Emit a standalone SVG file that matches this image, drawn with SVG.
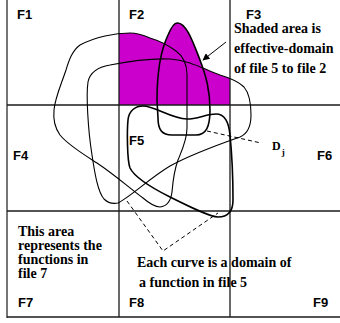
<svg xmlns="http://www.w3.org/2000/svg" width="340" height="323" viewBox="0 0 340 323">
<style>
.grid{stroke:#1a1a1a;stroke-width:1.3;fill:none}
.border{stroke:#666;stroke-width:1.8;fill:none}
.thin{stroke:#000;stroke-width:1.1;fill:none}
.bold{stroke:#000;stroke-width:1.6;fill:none}
.dash{stroke:#000;stroke-width:1;stroke-dasharray:4 3;fill:none}
.shade{fill:#cc00cc;stroke:none}
.lab{font-family:"Liberation Sans",Arial,sans-serif;font-weight:bold;font-size:13px;fill:#000}
.note{font-family:"Liberation Serif","Times New Roman",serif;font-weight:bold;font-size:14px;fill:#000}
</style>
<defs>
<clipPath id="cellF2"><rect x="119" y="0" width="111" height="105"/></clipPath>
<marker id="ah" viewBox="0 0 10 10" refX="9" refY="5" markerWidth="9" markerHeight="7" markerUnits="userSpaceOnUse" orient="auto">
<path d="M0,0 L10,5 L0,10 Z" fill="#000"/>
</marker>
<path id="cA" d="M160,207 C168,206 171,200 172,192 C173,180 175,168 178,160 C182,150 187,140 187,128 L187,75 C187,64 183,56 176,51 C168,45 160,41 150,38 C143,35 137,33 130,33 C115,33 95,37 80,45 C72,51 69,60 66,70 C61,85 55,98 54,110 C53,120 55,128 60,135 C68,145 83,154 97,163 C115,175 132,190 143,198 C150,204 155,207 160,207 Z"/>
<path id="cB" d="M118,203 C130,197 150,178 170,166 C190,155 220,144 240,137 C247,134 251,126 251,115 C251,104 250,94 244,87 C238,81 230,78 220,75 C205,70 190,60 170,59 C150,58 125,62 110,65 C98,67 90,72 88,82 C86,95 88,130 92,155 C95,175 98,192 104,199 C108,203 113,204 118,203 Z"/>
<path id="cC" d="M177,23 C186,22 193,42 200,60 C206,76 210,90 210,110 C210,127 206,135 196,135 L172,135 C162,135 158,130 158,118 L157,100 C157,72 161,50 168,35 C171,28 174,23 177,23 Z"/>
<path id="cD" d="M143,106 C155,106 170,118 187,119 C197,119 207,114 216,114 C226,114 229,124 230,135 C232,155 233,185 233,200 C233,212 228,217 218,217 C210,217 190,207 170,197 C150,187 135,178 130,168 C127,160 127,130 128,120 C129,110 136,106 143,106 Z"/>
</defs>

<g id="shaded-area" clip-path="url(#cellF2)">
<use href="#cA" class="shade"/>
<use href="#cB" class="shade"/>
<use href="#cC" class="shade"/>
</g>

<g id="grid">
<line class="border" x1="7" y1="0" x2="7" y2="318"/>
<line class="grid" x1="119" y1="0" x2="119" y2="317"/>
<line class="grid" x1="230" y1="0" x2="230" y2="317"/>
<line class="grid" x1="7" y1="105" x2="340" y2="105"/>
<line class="grid" x1="7" y1="211" x2="340" y2="211"/>
<line class="grid" x1="7" y1="317" x2="340" y2="317"/>
</g>

<g id="curves">
<use id="curve-a" href="#cA" class="thin"/>
<use id="curve-b" href="#cB" class="thin"/>
<use id="curve-c" href="#cC" class="bold"/>
<use id="curve-d" href="#cD" class="bold"/>
</g>

<g id="connectors">
<line class="dash" x1="207" y1="131" x2="261" y2="143"/>
<polyline class="dash" points="127,201 163,251 218,213"/>
<line x1="226" y1="42" x2="203" y2="60" stroke="#000" stroke-width="1" marker-end="url(#ah)"/>
</g>

<g id="labels">
<text class="lab" x="17" y="19">F1</text>
<text class="lab" x="129" y="19">F2</text>
<text class="lab" x="246" y="19">F3</text>
<text class="lab" x="13" y="160">F4</text>
<text class="lab" x="129" y="145">F5</text>
<text class="lab" x="317" y="160">F6</text>
<text class="lab" x="18" y="307">F7</text>
<text class="lab" x="129" y="307">F8</text>
<text class="lab" x="313" y="307">F9</text>
</g>

<g id="note-shaded">
<text class="note" x="234" y="33">Shaded area is</text>
<text class="note" x="234" y="53">effective-domain</text>
<text class="note" x="234" y="73">of file 5 to file 2</text>
</g>
<g id="note-f7">
<text class="note" x="18" y="236">This area</text>
<text class="note" x="18" y="250">represents the</text>
<text class="note" x="18" y="264">functions in</text>
<text class="note" x="18" y="278">file 7</text>
</g>
<g id="note-curve">
<text class="note" x="137" y="267">Each curve is a domain of</text>
<text class="note" x="139" y="287">a function in file 5</text>
</g>
<g id="label-dj">
<text font-family="'Liberation Serif','Times New Roman',serif" font-weight="bold" font-size="12" x="272" y="150">D<tspan font-size="9" dx="1" dy="5">j</tspan></text>
</g>
</svg>
